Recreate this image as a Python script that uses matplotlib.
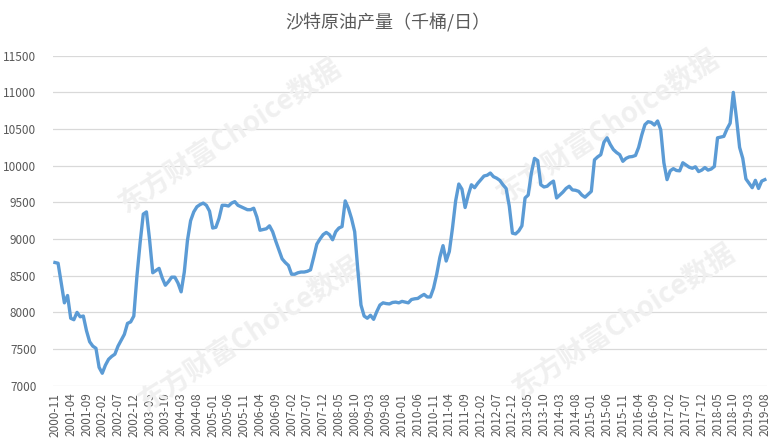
import numpy as np
import pandas as pd
import matplotlib
matplotlib.use("Agg")
import matplotlib.pyplot as plt

plt.rcParams['font.family'] = ['Noto Sans CJK SC', 'DejaVu Sans']

TITLE = "沙特原油产量（千桶/日）"
WATERMARK = "东方财富Choice数据"

# monthly output, 2000-11 .. 2019-08 (thousand barrels/day)
months = pd.period_range("2000-11", "2019-08", freq="M")
output = [
    8680, 8670, 8400, 8130, 8230, 7920, 7900, 8000, 7940, 7950,   # 2000-11
    7750, 7600, 7540, 7510, 7250, 7170, 7280, 7360, 7400, 7430,   # 2001-09
    7540, 7620, 7700, 7850, 7870, 7950, 8500, 8950, 9340, 9370,   # 2002-07
    8990, 8540, 8570, 8600, 8470, 8370, 8420, 8480, 8480, 8400,   # 2003-05
    8280, 8550, 8980, 9250, 9370, 9440, 9470, 9490, 9460, 9380,   # 2004-03
    9150, 9160, 9280, 9460, 9460, 9450, 9490, 9510, 9460, 9440,   # 2005-01
    9420, 9400, 9400, 9420, 9300, 9120, 9130, 9140, 9180, 9100,   # 2005-11
    8970, 8850, 8730, 8680, 8640, 8520, 8520, 8540, 8550, 8550,   # 2006-09
    8560, 8580, 8750, 8930, 9000, 9060, 9090, 9060, 8990, 9100,   # 2007-07
    9150, 9170, 9520, 9420, 9280, 9100, 8580, 8100, 7950, 7920,   # 2008-05
    7960, 7905, 8010, 8100, 8130, 8120, 8115, 8135, 8140, 8130,   # 2009-03
    8150, 8140, 8130, 8175, 8185, 8190, 8220, 8245, 8210, 8210,   # 2010-01
    8330, 8520, 8750, 8910, 8700, 8830, 9150, 9520, 9750, 9680,   # 2010-11
    9430, 9600, 9740, 9700, 9760, 9810, 9860, 9870, 9900, 9850,   # 2011-09
    9830, 9800, 9740, 9690, 9450, 9080, 9070, 9110, 9180, 9560,   # 2012-07
    9600, 9900, 10100, 10070, 9740, 9710, 9720, 9760, 9790, 9560, # 2013-05
    9600, 9640, 9690, 9720, 9670, 9665, 9650, 9600, 9570, 9610,   # 2014-03
    9650, 10080, 10120, 10150, 10320, 10380, 10290, 10220, 10180, 10150,  # 2015-01
    10060, 10100, 10120, 10125, 10140, 10250, 10420, 10560, 10600, 10590, # 2015-11
    10555, 10610, 10490, 10040, 9810, 9930, 9960, 9935, 9930, 10040,      # 2016-09
    10010, 9980, 9965, 9985, 9920, 9940, 9975, 9940, 9955, 9990,          # 2017-07
    10380, 10390, 10400, 10500, 10580, 11000, 10650, 10250, 10100, 9820,  # 2018-05
    9760, 9700, 9800, 9690, 9790, 9810,                                   # 2019-03
]

y_ticks = [7000, 7500, 8000, 8500, 9000, 9500, 10000, 10500, 11000, 11500]
labels = [m.strftime("%Y-%m") for m in months]
label_step = 5

fig = plt.figure(figsize=(7.8, 4.4), dpi=100)
ax = fig.add_axes([0.068, 0.1234, 0.915, 0.75])

x = np.arange(len(output))
ax.plot(x, output, color="#5B9BD5", lw=2.4, solid_joinstyle="round", zorder=3)

ax.set_xlim(-0.6, len(output) - 0.4)
ax.set_ylim(7000, 11500)
ax.set_yticks(y_ticks)
ax.set_yticklabels([str(v) for v in y_ticks])
ax.set_xticks(x[::label_step])
ax.set_xticklabels(labels[::label_step], rotation=90)
ax.tick_params(axis="both", length=0, colors="#595959", labelsize=8.5)
ax.tick_params(axis="y", pad=12)
ax.tick_params(axis="x", pad=5)
ax.grid(axis="y", color="#D9D9D9", lw=0.9)
ax.set_axisbelow(True)
for s in ax.spines.values():
    s.set_visible(False)

fig.text(0.497, 0.948, TITLE, ha="center", va="center", fontsize=13, color="#595959")

# faint watermarks, kept under the line
for wx, wy in [(0.295, 0.69), (0.78, 0.71), (0.32, 0.24), (0.80, 0.27)]:
    ax.text(wx, wy, WATERMARK, transform=fig.transFigure, ha="center", va="center",
            rotation=33, fontsize=20, fontweight="bold", color="#F0F0F0",
            zorder=1, clip_on=False)

fig.savefig("out.png", dpi=100)
